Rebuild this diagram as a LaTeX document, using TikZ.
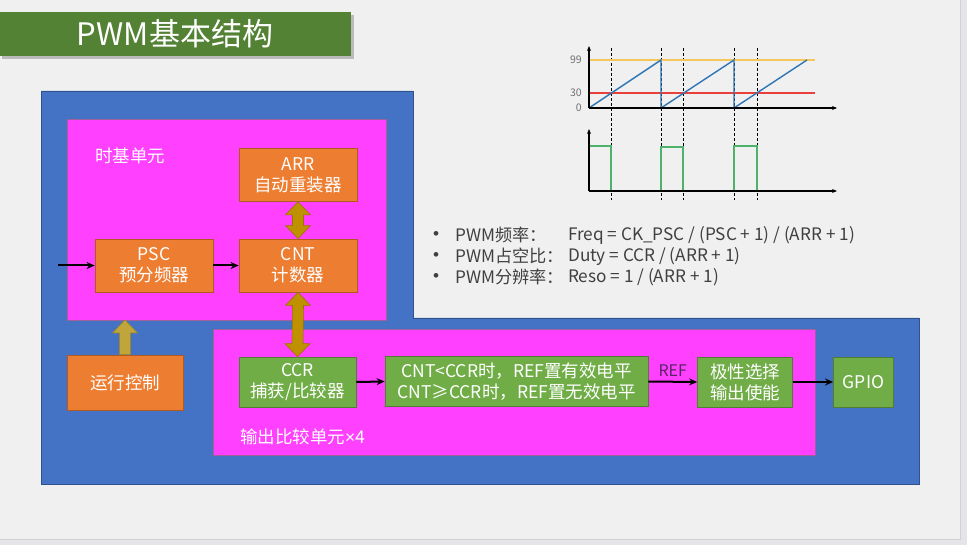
\documentclass[tikz,border=0pt]{standalone}
\usepackage{fontspec}
\setmainfont{Noto Sans CJK SC}
\newfontfamily\symfont{Liberation Sans}
\usetikzlibrary{calc,arrows.meta}

\definecolor{outerbg}{HTML}{E4E4E9}
\definecolor{slidebg}{HTML}{F0F0F0}
\definecolor{titlegreen}{HTML}{548235}
\definecolor{blockblue}{HTML}{4472C4}
\definecolor{blueedge}{HTML}{2F528F}
\definecolor{unitpink}{HTML}{FF40FF}
\definecolor{pinkedge}{HTML}{A0609A}
\definecolor{regorange}{HTML}{ED7D31}
\definecolor{orangeedge}{HTML}{AE5A21}
\definecolor{outgreen}{HTML}{70AD47}
\definecolor{greenedge}{HTML}{507E32}
\definecolor{busgold}{HTML}{BF9000}
\definecolor{busedge}{HTML}{9A7400}
\definecolor{ctrlgold}{HTML}{BFA53A}
\definecolor{ctrledge}{HTML}{9A8530}
\definecolor{reflabel}{HTML}{5A2566}
\definecolor{bodytext}{HTML}{404040}
\definecolor{axislabel}{HTML}{707070}
\definecolor{maxline}{HTML}{F5C75A}
\definecolor{cmpline}{HTML}{E8403A}
\definecolor{cntline}{HTML}{2E75B6}
\definecolor{pwmline}{HTML}{4DB36B}

\newcommand{\boxfont}{\fontsize{17.5}{21}\selectfont}

\tikzset{
  regbox/.style={draw=orangeedge, fill=regorange, line width=0.8pt, text=white,
    align=center, inner sep=0pt, font=\boxfont},
  outbox/.style={draw=greenedge, fill=outgreen, line width=0.8pt, text=white,
    align=center, inner sep=0pt, font=\boxfont},
  unitlabel/.style={text=white, anchor=west, inner sep=0pt, font=\boxfont},
  sigarrow/.style={draw=black, line width=2pt, -{Stealth[length=8pt,width=7pt]}},
  busarrow/.style={fill=busgold, draw=busedge, line width=0.6pt},
  ctrlarrow/.style={fill=ctrlgold, draw=ctrledge, line width=0.6pt},
  bullettext/.style={text=bodytext, anchor=west, inner sep=0pt,
    font=\fontsize{17.2}{20}\selectfont},
  axis/.style={draw=black, line width=1.3pt, -{Stealth[length=5pt,width=4pt]}},
  guide/.style={draw=black, line width=0.9pt, dash pattern=on 3pt off 2pt},
  ticklabel/.style={text=axislabel, anchor=east, inner sep=0pt,
    font=\fontsize{10.5}{12}\selectfont},
}

\begin{document}
\begin{tikzpicture}[x=1pt, y=-1pt]
  % page and slide
  \fill[outerbg] (0,0) rectangle (967,545);
  \useasboundingbox (0,0) rectangle (967,545);
  \fill[slidebg] (0,0) rectangle (960,539);
  \draw[gray!35, line width=0.6pt] (960,0) -- (960,539) -- (0,539);

  % title banner
  \fill[black!40, opacity=0.6] (2,15) rectangle (354,59);
  \fill[titlegreen] (0,12) rectangle (351,56);
  \node[text=white, inner sep=0pt, font=\fontsize{31}{36}\selectfont] (title) at (175,34) {PWM基本结构};

  % timer outline
  \draw[fill=blockblue, draw=blueedge, line width=0.8pt]
    (41,91) -- (413,91) -- (413,318) -- (919,318) -- (919,484) -- (41,484) -- cycle;

  % time base unit
  \draw[fill=unitpink, draw=pinkedge, line width=0.8pt] (67,119) rectangle (386,320);
  \node[unitlabel] (tblabel) at (95,156) {时基单元};
  \node[regbox, minimum width=118pt, minimum height=53pt] (arr) at (298,175) {ARR\\自动重装器};
  \node[regbox, minimum width=118pt, minimum height=53pt] (psc) at (154,265.5) {PSC\\预分频器};
  \node[regbox, minimum width=118pt, minimum height=53pt] (cnt) at (298,265.5) {CNT\\计数器};
  \coordinate (clkin) at (58,265.5);

  % run control
  \node[regbox, minimum width=116pt, minimum height=55pt] (run) at (125,382.5) {运行控制};

  % output compare unit
  \draw[fill=unitpink, draw=pinkedge, line width=0.8pt] (213,329) rectangle (815,455);
  \node[unitlabel] (oclabel) at (240,437) {输出比较单元{\symfont ×}4};
  \node[outbox, minimum width=117pt, minimum height=50pt] (ccr) at (297.5,382) {CCR\\捕获/比较器};
  \node[outbox, minimum width=263pt, minimum height=50pt] (cmp) at (516.5,381.5) {CNT<CCR时，REF置有效电平\\CNT≥CCR时，REF置无效电平};
  \node[outbox, minimum width=95pt, minimum height=50pt] (pol) at (745,382) {极性选择\\输出使能};
  \node[outbox, minimum width=60pt, minimum height=50pt] (gpio) at (863.5,382) {GPIO};

  % signal arrows
  \draw[sigarrow] (clkin) -- (psc.west);
  \draw[sigarrow] (psc.east) -- (cnt.west);
  \draw[sigarrow] (ccr.east) -- (cmp.west);
  \draw[sigarrow] (cmp.east) -- node[above=4pt, text=reflabel, inner sep=0pt, font=\fontsize{16}{18}\selectfont] (ref) {REF} (pol.west);
  \draw[sigarrow] (pol.east) -- (gpio.west);

  % register buses
  \path[busarrow] (arr.south) -- ($(arr.south)+(12.5,13)$) -- ($(arr.south)+(5.5,13)$)
    -- ($(cnt.north)+(5.5,-13)$) -- ($(cnt.north)+(12.5,-13)$) -- (cnt.north)
    -- ($(cnt.north)+(-12.5,-13)$) -- ($(cnt.north)+(-5.5,-13)$)
    -- ($(arr.south)+(-5.5,13)$) -- ($(arr.south)+(-12.5,13)$) -- cycle;
  \path[busarrow] (cnt.south) -- ($(cnt.south)+(12.5,13)$) -- ($(cnt.south)+(5.5,13)$)
    -- ($(ccr.north)+(5.5,-13)$) -- ($(ccr.north)+(12.5,-13)$) -- (ccr.north)
    -- ($(ccr.north)+(-12.5,-13)$) -- ($(ccr.north)+(-5.5,-13)$)
    -- ($(cnt.south)+(-5.5,13)$) -- ($(cnt.south)+(-12.5,13)$) -- cycle;

  % run control arrow
  \coordinate (runtip) at (125,320);
  \path[ctrlarrow] (runtip) -- ($(runtip)+(12.5,13)$) -- ($(runtip)+(5.5,13)$)
    -- ($(run.north)+(5.5,0)$) -- ($(run.north)+(-5.5,0)$)
    -- ($(runtip)+(-5.5,13)$) -- ($(runtip)+(-12.5,13)$) -- cycle;

  % waveform: counter vs. compare
  \foreach \gx in {611,661,683,734,757}
    \draw[guide] (\gx,48) -- (\gx,200);
  \draw[maxline, line width=1.5pt] (589,60) -- (815,60);
  \draw[cmpline, line width=1.5pt] (589,93) -- (815,93);
  \draw[cntline, line width=1.4pt] (589,108) -- (661,60) -- (661,108) -- (734,60) -- (734,108) -- (807,60);
  \draw[axis] (589,108) -- (589,46);
  \draw[axis] (589,108) -- (837,108);
  \node[ticklabel] (t99) at (582,60) {99};
  \node[ticklabel] (t30) at (582,93) {30};
  \node[ticklabel] (t0) at (582,108) {0};

  % waveform: PWM output
  \draw[pwmline, line width=1.5pt] (589,146) -- (611,146) -- (611,191) -- (661,191) -- (661,147)
    -- (683,147) -- (683,191) -- (734,191) -- (734,146) -- (757,146) -- (757,191) -- (808,191);
  \draw[axis] (589,191) -- (589,129);
  \draw[axis] (589,191) -- (837,191);

  % formulas
  \foreach \ly in {235,256,277}
    \node[bullettext] at (433,\ly) {\symfont •};
  \node[bullettext] (f1) at (455,235) {PWM频率：};
  \node[bullettext] (f2) at (455,256) {PWM占空比：};
  \node[bullettext] (f3) at (455,277) {PWM分辨率：};
  \node[bullettext] (e1) at (568,235) {Freq = CK\_PSC / (PSC + 1) / (ARR + 1)};
  \node[bullettext] (e2) at (568,256) {Duty = CCR / (ARR + 1)};
  \node[bullettext] (e3) at (568,277) {Reso = 1 / (ARR + 1)};
\end{tikzpicture}
\end{document}
